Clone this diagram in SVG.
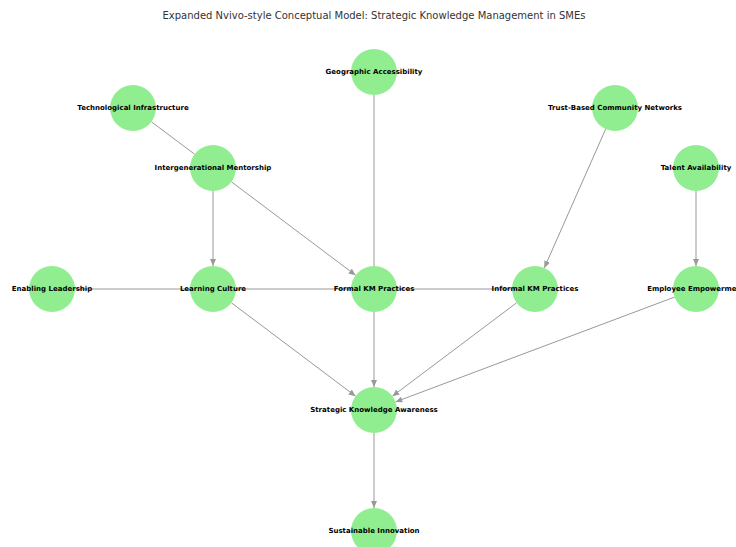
<svg xmlns="http://www.w3.org/2000/svg" width="736" height="547" viewBox="0 0 736 547">
<style>
.node circle{fill:#90ee90;}
.node text{font-family:"DejaVu Sans",sans-serif;font-size:7px;font-weight:bold;fill:#000;text-anchor:middle;dominant-baseline:central;}
.edges line{stroke:#999;stroke-width:1;}
.title{font-family:"DejaVu Sans",sans-serif;font-size:10px;fill:#333;text-anchor:middle;}
</style>
<defs>
<marker id="arr" markerUnits="userSpaceOnUse" markerWidth="8" markerHeight="6" refX="7" refY="3" orient="auto">
<path d="M0,0 L7,3 L0,6 z" fill="#999"/>
</marker>
</defs>
<rect width="736" height="547" fill="#fff"/>
<text class="title" x="374" y="19">Expanded Nvivo-style Conceptual Model: Strategic Knowledge Management in SMEs</text>
<g class="edges">
<line x1="151.4" y1="121.8" x2="194.6" y2="154.2"/>
<line x1="231.4" y1="181.8" x2="355.6" y2="275.2" marker-end="url(#arr)"/>
<line x1="605.7" y1="129" x2="544.3" y2="267.9" marker-end="url(#arr)"/>
<line x1="696" y1="191" x2="696" y2="266" marker-end="url(#arr)"/>
<line x1="213" y1="191" x2="213" y2="266" marker-end="url(#arr)"/>
<line x1="374" y1="95" x2="374" y2="266"/>
<line x1="75" y1="289" x2="190" y2="289"/>
<line x1="236" y1="289" x2="351" y2="289"/>
<line x1="397" y1="289" x2="512" y2="289"/>
<line x1="231.4" y1="302.8" x2="355.6" y2="396.2" marker-end="url(#arr)"/>
<line x1="374" y1="312" x2="374" y2="387" marker-end="url(#arr)"/>
<line x1="516.6" y1="302.8" x2="392.4" y2="396.2" marker-end="url(#arr)"/>
<line x1="674.5" y1="297.1" x2="395.5" y2="401.9" marker-end="url(#arr)"/>
<line x1="374" y1="433" x2="374" y2="508" marker-end="url(#arr)"/>
</g>
<g id="geographic-accessibility" class="node"><circle cx="374" cy="72" r="23"/><text x="374" y="72">Geographic Accessibility</text></g>
<g id="technological-infrastructure" class="node"><circle cx="133" cy="108" r="23"/><text x="133" y="108">Technological Infrastructure</text></g>
<g id="trust-based-community-networks" class="node"><circle cx="615" cy="108" r="23"/><text x="615" y="108">Trust-Based Community Networks</text></g>
<g id="intergenerational-mentorship" class="node"><circle cx="213" cy="168" r="23"/><text x="213" y="168">Intergenerational Mentorship</text></g>
<g id="talent-availability" class="node"><circle cx="696" cy="168" r="23"/><text x="696" y="168">Talent Availability</text></g>
<g id="enabling-leadership" class="node"><circle cx="52" cy="289" r="23"/><text x="52" y="289">Enabling Leadership</text></g>
<g id="learning-culture" class="node"><circle cx="213" cy="289" r="23"/><text x="213" y="289">Learning Culture</text></g>
<g id="formal-km-practices" class="node"><circle cx="374" cy="289" r="23"/><text x="374" y="289">Formal KM Practices</text></g>
<g id="informal-km-practices" class="node"><circle cx="535" cy="289" r="23"/><text x="535" y="289">Informal KM Practices</text></g>
<g id="employee-empowerment" class="node"><circle cx="696" cy="289" r="23"/><text x="696" y="289">Employee Empowerment</text></g>
<g id="strategic-knowledge-awareness" class="node"><circle cx="374" cy="410" r="23"/><text x="374" y="410">Strategic Knowledge Awareness</text></g>
<g id="sustainable-innovation" class="node"><circle cx="374" cy="531" r="23"/><text x="374" y="531">Sustainable Innovation</text></g>
</svg>
